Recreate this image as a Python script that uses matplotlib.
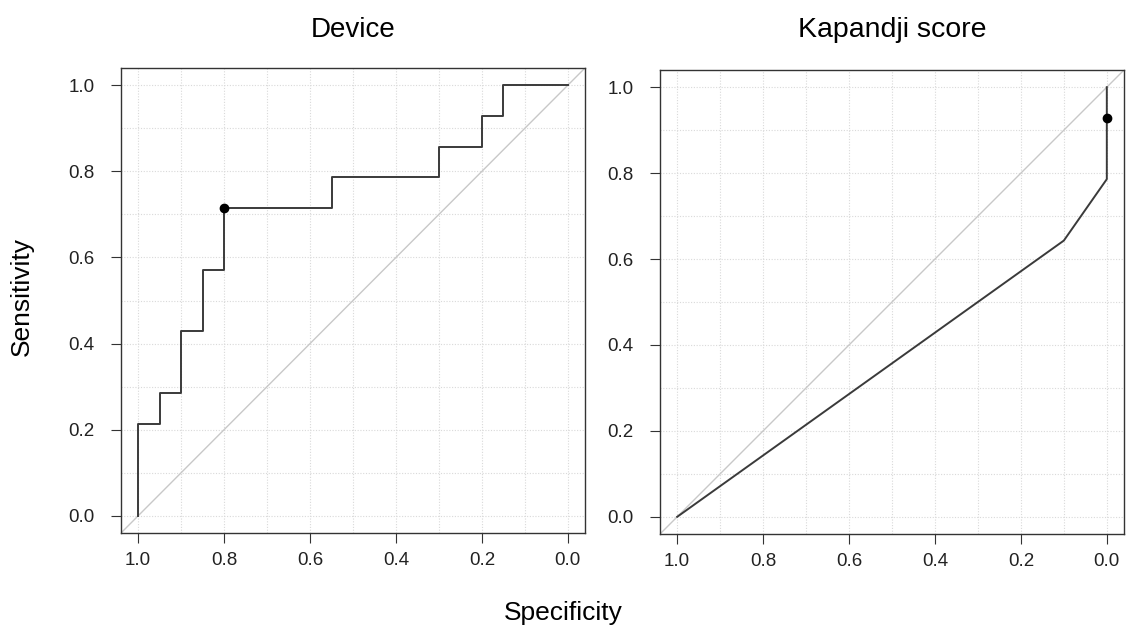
import matplotlib
matplotlib.use("Agg")
import matplotlib.pyplot as plt
import numpy as np

plt.rcParams['font.family'] = ['Liberation Sans', 'DejaVu Sans']

# Device ROC (specificity, sensitivity)
device_spec = [1.0, 1.0, 0.95, 0.95, 0.90, 0.90, 0.85, 0.85, 0.80, 0.80, 0.55, 0.55, 0.30, 0.30, 0.20, 0.20, 0.15, 0.15, 0.0]
device_sens = [0.0, 0.214, 0.214, 0.286, 0.286, 0.429, 0.429, 0.571, 0.571, 0.714, 0.714, 0.786, 0.786, 0.857, 0.857, 0.929, 0.929, 1.0, 1.0]
device_best = (0.80, 0.714)

# Kapandji score ROC
kap_spec = [1.0, 0.10, 0.0, 0.0]
kap_sens = [0.0, 0.643, 0.786, 1.0]
kap_best = (0.0, 0.929)

titles = ["Device", "Kapandji score"]
ticks = [0.0, 0.2, 0.4, 0.6, 0.8, 1.0]
tick_labels = ["0.0", "0.2", "0.4", "0.6", "0.8", "1.0"]

W, H = 1126, 631
fig = plt.figure(figsize=(W / 100, H / 100), dpi=100)

boxes = [(121, 68, 585, 533), (660, 70, 1124, 534)]
data = [(device_spec, device_sens, device_best), (kap_spec, kap_sens, kap_best)]

for (x0, y0, x1, y1), (sp, se, best), title in zip(boxes, data, titles):
    ax = fig.add_axes([x0 / W, 1 - y1 / H, (x1 - x0) / W, (y1 - y0) / H])
    ax.set_xlim(1.04, -0.04)
    ax.set_ylim(-0.04, 1.04)
    grid = np.arange(0, 1.01, 0.1)
    for g in grid:
        ax.axvline(g, color='#d9d9d9', lw=0.8, ls=(0, (1, 1.5)), zorder=0)
        ax.axhline(g, color='#d9d9d9', lw=0.8, ls=(0, (1, 1.5)), zorder=0)
    ax.axline((1, 0), (0, 1), color='#c8c8c8', lw=1.0, zorder=1)
    ax.plot(sp, se, color='#3a3a3a', lw=1.4, zorder=2)
    ax.plot([best[0]], [best[1]], 'o', color='black', ms=6, zorder=3)
    ax.set_xticks(ticks)
    ax.set_xticklabels(tick_labels)
    ax.set_yticks(ticks)
    ax.set_yticklabels(tick_labels)
    ax.tick_params(direction='out', length=7, width=0.8, color='#333333',
                   labelsize=13.5, labelcolor='#222222')
    ax.tick_params(axis='x', pad=7)
    ax.tick_params(axis='y', pad=12)
    for s in ax.spines.values():
        s.set_color('#333333')
        s.set_linewidth(1.0)
    fig.text((x0 + x1) / 2 / W, 1 - 37 / H, title, ha='center', va='baseline',
             fontsize=20.5 if len(title) > 8 else 20)

fig.text(22 / W, 1 - 297 / H, "Sensitivity", rotation=90, ha='center', va='center', fontsize=19)
fig.text(563 / W, 1 - 613 / H, "Specificity", ha='center', va='center', fontsize=19)

fig.savefig("out.png", dpi=100)
